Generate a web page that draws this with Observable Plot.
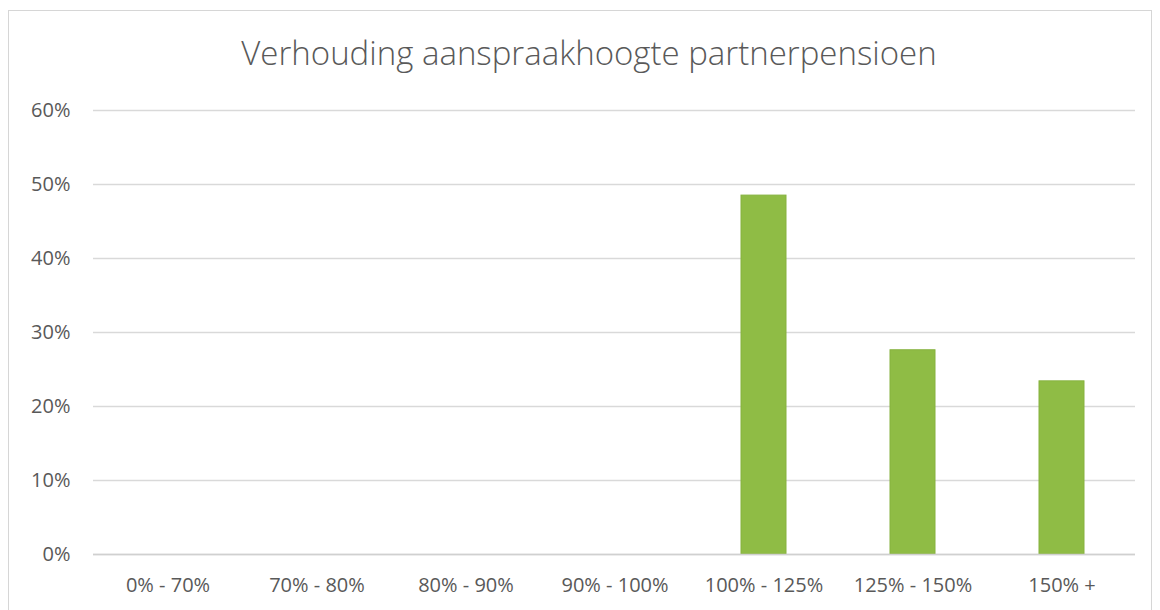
<!DOCTYPE html>
<html>
<head>
<meta charset="utf-8">
<script src="https://cdn.jsdelivr.net/npm/d3@7"></script>
<script src="https://cdn.jsdelivr.net/npm/@observablehq/plot@0.6"></script>
<style>
  html, body { margin: 0; padding: 0; background: #fff; width: 1160px; height: 610px; overflow: hidden; }
  #frame { position: absolute; left: 8px; top: 10px; width: 1144px; height: 640px; border: 1px solid #d6d6d6; box-sizing: border-box; }
  #title { position: absolute; left: 0; width: 1178px; top: 33px; text-align: center; font-family: "Open Sans", sans-serif; font-weight: 300; font-size: 33px; line-height: 1.2; color: #595959; white-space: nowrap; }
  #chart { position: absolute; left: 0; top: 95px; }
  #chart svg text { fill: #595959; }
</style>
</head>
<body>
<div id="frame"></div>
<div id="title">Verhouding aanspraakhoogte partnerpensioen</div>
<div id="chart"></div>
<script>
const categories = ["0% - 70%", "70% - 80%", "80% - 90%", "90% - 100%", "100% - 125%", "125% - 150%", "150% +"];
const shares = [0, 0, 0, 0, 0.485, 0.276, 0.234];
const yTicks = [0, 0.1, 0.2, 0.3, 0.4, 0.5, 0.6];

const data = categories.map((c, i) => ({category: c, share: shares[i]}));

const chart = Plot.plot({
  width: 1160,
  height: 515,
  marginTop: 15,
  marginLeft: 93,
  marginRight: 25,
  marginBottom: 56,
  style: {fontFamily: "'Open Sans', sans-serif", fontSize: "20px", color: "#595959", background: "transparent"},
  x: {domain: categories, paddingInner: 0.7, paddingOuter: 0.335, label: null, tickSize: 0, tickPadding: 23},
  y: {domain: [0, 0.6], ticks: yTicks, tickFormat: d3.format(".0%"), label: null, tickSize: 0, tickPadding: 23},
  marks: [
    Plot.gridY(yTicks, {stroke: "#d9d9d9", strokeOpacity: 1, strokeWidth: 1.5}),
    Plot.barY(data, {x: "category", y: "share", fill: "#8fbc45", stroke: "#86b23e", strokeWidth: 1}),
    Plot.ruleY([0], {stroke: "#d0d0d0", strokeWidth: 1.5})
  ]
});
document.getElementById("chart").appendChild(chart);
</script>
</body>
</html>
